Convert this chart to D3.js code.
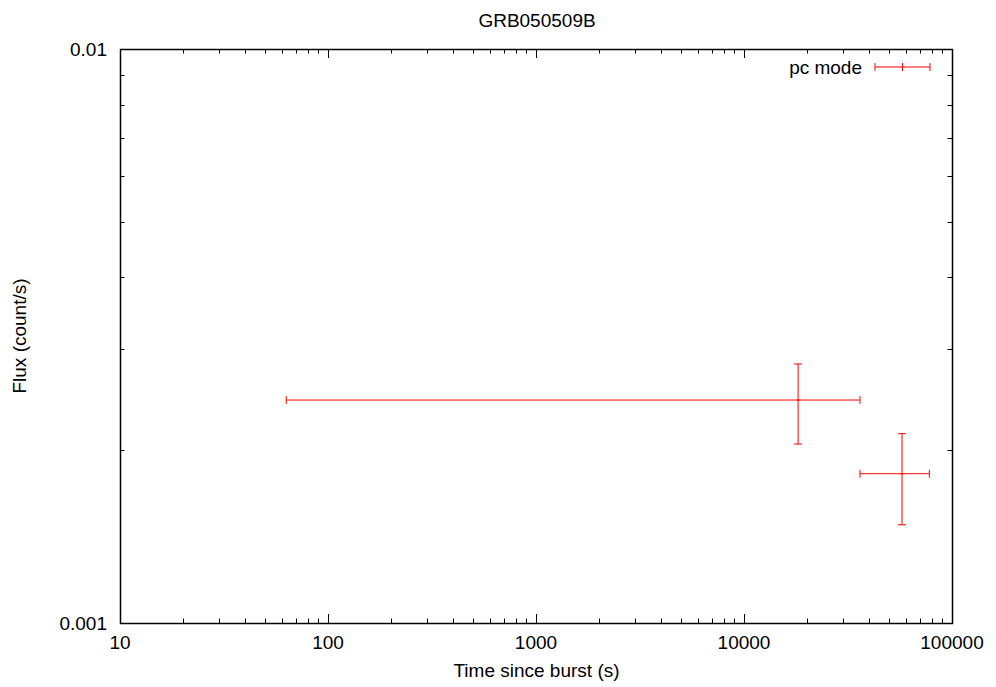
<!DOCTYPE html>
<html><head><meta charset="utf-8">
<script src="https://cdn.jsdelivr.net/npm/d3@7"></script>
<style>body{margin:0;background:#fff}svg{font-family:"Liberation Sans",Arial,sans-serif}</style>
</head><body><svg id="c" width="996" height="687"></svg>
<script>
const title = "GRB050509B";
const xLabel = "Time since burst (s)";
const yLabel = "Flux (count/s)";
const seriesName = "pc mode";
const xTickValues = [10, 100, 1000, 10000, 100000];
const xTickLabels = ["10", "100", "1000", "10000", "100000"];
const yTickValues = [0.001, 0.01];
const yTickLabels = ["0.001", "0.01"];
// data: time, tmin, tmax, flux, fluxLow, fluxHigh
const times    = [18200, 57500];
const timeLow  = [63, 36100];
const timeHigh = [36100, 77800];
const flux     = [0.002446, 0.001820];
const fluxLow  = [0.002050, 0.001483];
const fluxHigh = [0.002827, 0.002137];

const svg = d3.select("#c");
const L = 120, R = 952, T = 49, B = 623;
const x = d3.scaleLog().domain([10, 100000]).range([L, R]);
const y = d3.scaleLog().domain([0.001, 0.01]).range([B, T]);
const red = "#ff0000";

const xMinor = [], yMinor = [];
for (let d = 10; d < 100000; d *= 10) for (let k = 2; k < 10; k++) xMinor.push(d * k);
for (let k = 2; k < 10; k++) yMinor.push(0.001 * k);

const g = svg.append("g").attr("stroke", "#000").attr("stroke-width", 1);
xTickValues.forEach(v => {
  const px = Math.round(x(v)) + 0.5;
  g.append("line").attr("x1", px).attr("x2", px).attr("y1", B).attr("y2", B - 9);
  g.append("line").attr("x1", px).attr("x2", px).attr("y1", T).attr("y2", T + 9);
});
xMinor.forEach(v => {
  const px = Math.round(x(v)) + 0.5;
  g.append("line").attr("x1", px).attr("x2", px).attr("y1", B).attr("y2", B - 4.5);
  g.append("line").attr("x1", px).attr("x2", px).attr("y1", T).attr("y2", T + 4.5);
});
yTickValues.forEach(v => {
  const py = Math.round(y(v)) + 0.5;
  g.append("line").attr("x1", L).attr("x2", L + 9).attr("y1", py).attr("y2", py);
  g.append("line").attr("x1", R).attr("x2", R - 9).attr("y1", py).attr("y2", py);
});
yMinor.forEach(v => {
  const py = Math.round(y(v)) + 0.5;
  g.append("line").attr("x1", L).attr("x2", L + 4.5).attr("y1", py).attr("y2", py);
  g.append("line").attr("x1", R).attr("x2", R - 4.5).attr("y1", py).attr("y2", py);
});
svg.append("rect").attr("x", L + 0.5).attr("y", T + 0.5).attr("width", R - L).attr("height", B - T)
  .attr("fill", "none").attr("stroke", "#000").attr("stroke-width", 1.5);

const fs = 19;
xTickValues.forEach((v, i) => {
  svg.append("text").attr("x", x(v)).attr("y", B + 26).attr("text-anchor", "middle")
    .attr("font-size", fs).text(xTickLabels[i]);
});
yTickValues.forEach((v, i) => {
  svg.append("text").attr("x", 107).attr("y", y(v) + 7).attr("text-anchor", "end")
    .attr("font-size", fs).text(yTickLabels[i]);
});
svg.append("text").attr("x", 537).attr("y", 27).attr("text-anchor", "middle").attr("font-size", fs).text(title);
svg.append("text").attr("x", 536.5).attr("y", 677).attr("text-anchor", "middle").attr("font-size", fs).text(xLabel);
svg.append("text").attr("transform", `translate(26,${(T + B) / 2}) rotate(-90)`).attr("text-anchor", "middle").attr("font-size", fs).text(yLabel);

const eb = svg.append("g").attr("stroke", red).attr("stroke-width", 1).attr("fill", "none");
const cap = 4;
times.forEach((t, i) => {
  const cx = x(t), cy = y(flux[i]);
  const x0 = x(timeLow[i]), x1 = x(timeHigh[i]);
  const y0 = y(fluxLow[i]), y1 = y(fluxHigh[i]);
  eb.append("line").attr("x1", x0).attr("x2", x1).attr("y1", cy).attr("y2", cy);
  eb.append("line").attr("x1", x0).attr("x2", x0).attr("y1", cy - cap).attr("y2", cy + cap);
  eb.append("line").attr("x1", x1).attr("x2", x1).attr("y1", cy - cap).attr("y2", cy + cap);
  eb.append("line").attr("x1", cx).attr("x2", cx).attr("y1", y0).attr("y2", y1);
  eb.append("line").attr("x1", cx - cap).attr("x2", cx + cap).attr("y1", y0).attr("y2", y0);
  eb.append("line").attr("x1", cx - cap).attr("x2", cx + cap).attr("y1", y1).attr("y2", y1);
  eb.append("line").attr("x1", cx - 1.5).attr("x2", cx + 1.5).attr("y1", cy).attr("y2", cy);
});

const ly = 67, lx0 = 875, lx1 = 930, lxm = (lx0 + lx1) / 2;
svg.append("text").attr("x", 862).attr("y", ly + 7).attr("text-anchor", "end").attr("font-size", fs).text(seriesName);
const lg = svg.append("g").attr("stroke", red).attr("stroke-width", 1);
lg.append("line").attr("x1", lx0).attr("x2", lx1).attr("y1", ly).attr("y2", ly);
[lx0, lxm, lx1].forEach(px => lg.append("line").attr("x1", px).attr("x2", px).attr("y1", ly - cap).attr("y2", ly + cap));
</script></body></html>
